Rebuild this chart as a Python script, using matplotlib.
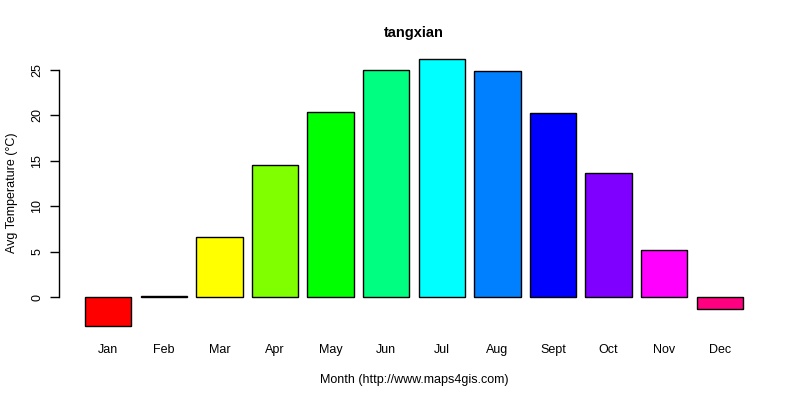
import matplotlib
matplotlib.use("Agg")
import matplotlib.pyplot as plt
import numpy as np

months = ["Jan", "Feb", "Mar", "Apr", "May", "Jun", "Jul", "Aug", "Sept", "Oct", "Nov", "Dec"]
temps = [-3.2, 0.15, 6.6, 14.5, 20.4, 25.0, 26.2, 24.9, 20.3, 13.7, 5.25, -1.3]
colors = ["#FF0000", "#FF8000", "#FFFF00", "#80FF00", "#00FF00", "#00FF80",
          "#00FFFF", "#0080FF", "#0000FF", "#8000FF", "#FF00FF", "#FF0080"]
yticks = [0, 5, 10, 15, 20, 25]

plt.rcParams['font.family'] = ['Liberation Sans', 'DejaVu Sans']

fig = plt.figure(figsize=(8, 4), dpi=100)
ax = fig.add_axes([0.0734, 0.1575, 0.9616 - 0.0734, 0.879 - 0.1575])

x = 0.2 + np.arange(len(months)) * 1.2 + 0.5
ax.bar(x, temps, width=1.0, color=colors, edgecolor="black", linewidth=1.0)

xmin, xmax = 0.2, 0.2 + 1.2 * len(months) - 0.2
dx = 0.04 * (xmax - xmin)
ax.set_xlim(xmin - dx, xmax + dx)
ymin, ymax = min(temps), max(temps)
dy = 0.04 * (ymax - ymin)
ax.set_ylim(ymin - dy, ymax + dy)

for s in ["top", "right", "bottom"]:
    ax.spines[s].set_visible(False)
ax.spines["left"].set_bounds(yticks[0], yticks[-1])
ax.spines["left"].set_linewidth(1.0)

ax.set_yticks(yticks)
ax.set_yticklabels([str(v) for v in yticks], rotation=90, va="center", fontsize=9)
ax.tick_params(axis="y", length=6.5, width=1.0, pad=4.5)
ax.set_xticks(x)
ax.set_xticklabels(months, fontsize=9)
ax.tick_params(axis="x", length=0, pad=5)

ax.set_title("tangxian", fontsize=10.5, fontweight="bold", pad=8.5)
ax.set_xlabel("Month (http://www.maps4gis.com)", fontsize=9, labelpad=13)
ax.set_ylabel("Avg Temperature (°C)", fontsize=9, labelpad=10)

fig.savefig("out.png", dpi=100, facecolor="white")
